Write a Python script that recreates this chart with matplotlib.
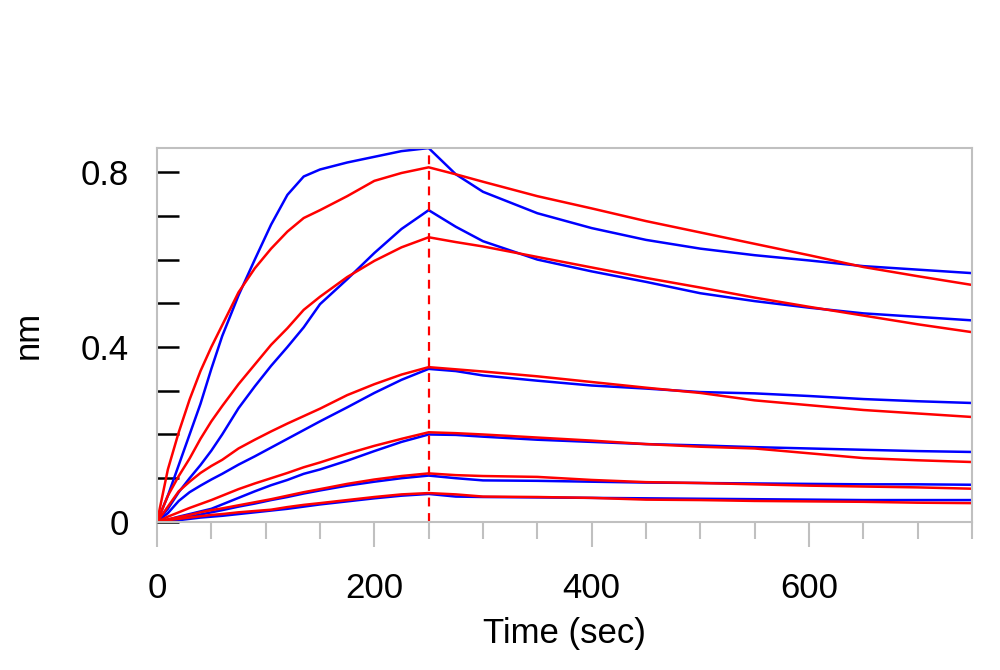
import numpy as np
import matplotlib.pyplot as plt
from matplotlib.ticker import MultipleLocator

plt.rcParams['font.family'] = ['Liberation Sans', 'DejaVu Sans']

# time points (sec)
t_assoc = [0, 10, 20, 30, 40, 50, 60, 75, 90, 105, 120, 135, 150, 175, 200, 225, 250]
t_dissoc = [250, 275, 300, 350, 400, 450, 500, 550, 600, 650, 700, 750]

# measured responses (blue), association phase, high -> low concentration
meas_assoc = [
    [0, 0.06, 0.13, 0.2, 0.27, 0.35, 0.425, 0.518, 0.6, 0.68, 0.748, 0.79, 0.806, 0.822, 0.835, 0.848, 0.855],
    [0, 0.03, 0.068, 0.1, 0.13, 0.163, 0.2, 0.26, 0.31, 0.357, 0.4, 0.445, 0.498, 0.555, 0.615, 0.67, 0.713],
    [0, 0.02, 0.048, 0.068, 0.083, 0.097, 0.11, 0.131, 0.15, 0.17, 0.19, 0.21, 0.23, 0.262, 0.295, 0.325, 0.35],
    [0, 0.005, 0.012, 0.018, 0.024, 0.03, 0.04, 0.055, 0.07, 0.084, 0.096, 0.11, 0.12, 0.14, 0.162, 0.183, 0.2],
    [0, 0.003, 0.008, 0.012, 0.017, 0.022, 0.027, 0.035, 0.042, 0.05, 0.057, 0.065, 0.072, 0.083, 0.092, 0.1, 0.106],
    [0, 0.002, 0.004, 0.007, 0.01, 0.012, 0.014, 0.018, 0.022, 0.026, 0.03, 0.035, 0.04, 0.047, 0.054, 0.06, 0.064],
]
# measured responses (blue), dissociation phase
meas_dissoc = [
    [0.855, 0.795, 0.755, 0.706, 0.672, 0.645, 0.625, 0.61, 0.598, 0.585, 0.577, 0.569],
    [0.713, 0.675, 0.642, 0.6, 0.573, 0.549, 0.523, 0.505, 0.49, 0.477, 0.469, 0.461],
    [0.352, 0.345, 0.335, 0.323, 0.312, 0.305, 0.297, 0.294, 0.288, 0.281, 0.276, 0.272],
    [0.2, 0.199, 0.195, 0.188, 0.183, 0.178, 0.175, 0.171, 0.168, 0.165, 0.162, 0.16],
    [0.106, 0.1, 0.095, 0.094, 0.092, 0.09, 0.089, 0.088, 0.087, 0.086, 0.086, 0.085],
    [0.064, 0.058, 0.057, 0.056, 0.055, 0.054, 0.053, 0.052, 0.051, 0.05, 0.05, 0.05],
]
# fitted curves (red), association phase
fit_assoc = [
    [0, 0.12, 0.205, 0.28, 0.345, 0.4, 0.45, 0.525, 0.58, 0.625, 0.664, 0.695, 0.713, 0.745, 0.78, 0.798, 0.811],
    [0, 0.06, 0.105, 0.145, 0.19, 0.23, 0.265, 0.315, 0.36, 0.405, 0.443, 0.485, 0.515, 0.56, 0.597, 0.628, 0.651],
    [0, 0.035, 0.07, 0.092, 0.112, 0.128, 0.142, 0.168, 0.188, 0.207, 0.225, 0.242, 0.259, 0.29, 0.315, 0.337, 0.354],
    [0, 0.012, 0.022, 0.032, 0.041, 0.05, 0.06, 0.075, 0.088, 0.1, 0.112, 0.125, 0.136, 0.156, 0.174, 0.19, 0.205],
    [0, 0.006, 0.011, 0.016, 0.022, 0.027, 0.031, 0.038, 0.045, 0.052, 0.06, 0.068, 0.075, 0.087, 0.097, 0.105, 0.111],
    [0, 0.004, 0.007, 0.01, 0.013, 0.016, 0.018, 0.022, 0.025, 0.028, 0.034, 0.039, 0.043, 0.05, 0.057, 0.063, 0.066],
]
# fitted curves (red), dissociation phase
fit_dissoc = [
    [0.811, 0.795, 0.778, 0.745, 0.717, 0.688, 0.662, 0.636, 0.61, 0.583, 0.562, 0.542],
    [0.651, 0.64, 0.63, 0.606, 0.582, 0.558, 0.536, 0.513, 0.492, 0.472, 0.452, 0.434],
    [0.354, 0.349, 0.344, 0.333, 0.32, 0.307, 0.295, 0.278, 0.267, 0.256, 0.248, 0.24],
    [0.205, 0.203, 0.2, 0.193, 0.186, 0.178, 0.172, 0.168, 0.157, 0.146, 0.141, 0.137],
    [0.111, 0.107, 0.105, 0.103, 0.096, 0.091, 0.089, 0.086, 0.083, 0.081, 0.079, 0.076],
    [0.066, 0.063, 0.058, 0.057, 0.055, 0.051, 0.05, 0.048, 0.047, 0.046, 0.044, 0.043],
]
switch_time = 250

fig = plt.figure(figsize=(10, 6.7), dpi=100)
ax = fig.add_axes([0.157, 0.221, 0.815, 0.558])

# measured first, fit on top
for a, d in zip(meas_assoc, meas_dissoc):
    ax.plot(t_assoc + t_dissoc[1:], a + d[1:], color='#0000ff', lw=1.8)
for a, d in zip(fit_assoc, fit_dissoc):
    ax.plot(t_assoc + t_dissoc[1:], a + d[1:], color='#ff0000', lw=1.8)

# end of association
ax.axvline(switch_time, color='#ff0000', lw=1.6, linestyle=(0, (4, 3)))

ax.set_xlim(0, 750)
ax.set_ylim(0, 0.855)

for s in ax.spines.values():
    s.set_color('#c0c0c0')
    s.set_linewidth(1.5)

# x ticks: gray, outward
ax.xaxis.set_major_locator(MultipleLocator(200))
ax.xaxis.set_minor_locator(MultipleLocator(50))
ax.tick_params(axis='x', which='major', direction='out', length=18, width=1.5,
               color='#c0c0c0', labelsize=25, pad=18)
ax.tick_params(axis='x', which='minor', direction='out', length=12, width=1.5,
               color='#c0c0c0')

# y ticks: black, inward
ax.set_yticks([0, 0.4, 0.8])
ax.set_yticklabels(['0', '0.4', '0.8'])
ax.yaxis.set_minor_locator(MultipleLocator(0.1))
ax.tick_params(axis='y', which='both', direction='in', length=16, width=1.8,
               color='black', labelsize=25, pad=20)

ax.set_xlabel('Time (sec)', fontsize=25, labelpad=9)
ax.set_ylabel('nm', fontsize=25, labelpad=26)

plt.savefig('out.png', dpi=100)
